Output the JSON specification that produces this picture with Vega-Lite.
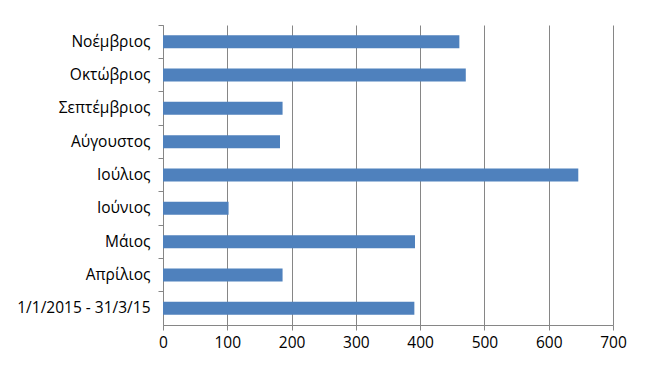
{
  "$schema": "https://vega.github.io/schema/vega-lite/v6.json",
  "autosize": {"type": "none"},
  "padding": {"left": 163, "top": 25, "right": 42, "bottom": 52},
  "width": 450,
  "height": 300,
  "background": "white",
  "config": {
    "view": {"stroke": null},
    "font": "Open Sans"
  },
  "data": {
    "values": [
      {"period": "Νοέμβριος", "value": 461},
      {"period": "Οκτώβριος", "value": 471},
      {"period": "Σεπτέμβριος ", "value": 186},
      {"period": "Αύγουστος", "value": 182},
      {"period": "Ιούλιος", "value": 646},
      {"period": "Ιούνιος", "value": 102},
      {"period": "Μάιος", "value": 392},
      {"period": "Απρίλιος", "value": 186},
      {"period": "1/1/2015 - 31/3/15", "value": 391}
    ]
  },
  "mark": {"type": "bar", "color": "#4F81BD", "size": 13},
  "encoding": {
    "y": {
      "field": "period",
      "type": "nominal",
      "sort": null,
      "scale": {"paddingInner": 0, "paddingOuter": 0},
      "axis": {
        "title": null,
        "domainColor": "#868686",
        "tickColor": "#868686",
        "tickSize": 5,
        "bandPosition": 0,
        "labelPadding": 8,
        "labelFontSize": 15.5,
        "labelColor": "#000000",
        "grid": false
      }
    },
    "x": {
      "field": "value",
      "type": "quantitative",
      "scale": {"domain": [0, 700], "nice": false},
      "axis": {
        "title": null,
        "values": [0, 100, 200, 300, 400, 500, 600, 700],
        "grid": true,
        "gridColor": "#868686",
        "gridOpacity": 1,
        "domainColor": "#868686",
        "tickColor": "#868686",
        "tickSize": 5,
        "labelPadding": 5,
        "labelFontSize": 15.5,
        "labelColor": "#000000",
        "labelFlush": false
      }
    }
  }
}
